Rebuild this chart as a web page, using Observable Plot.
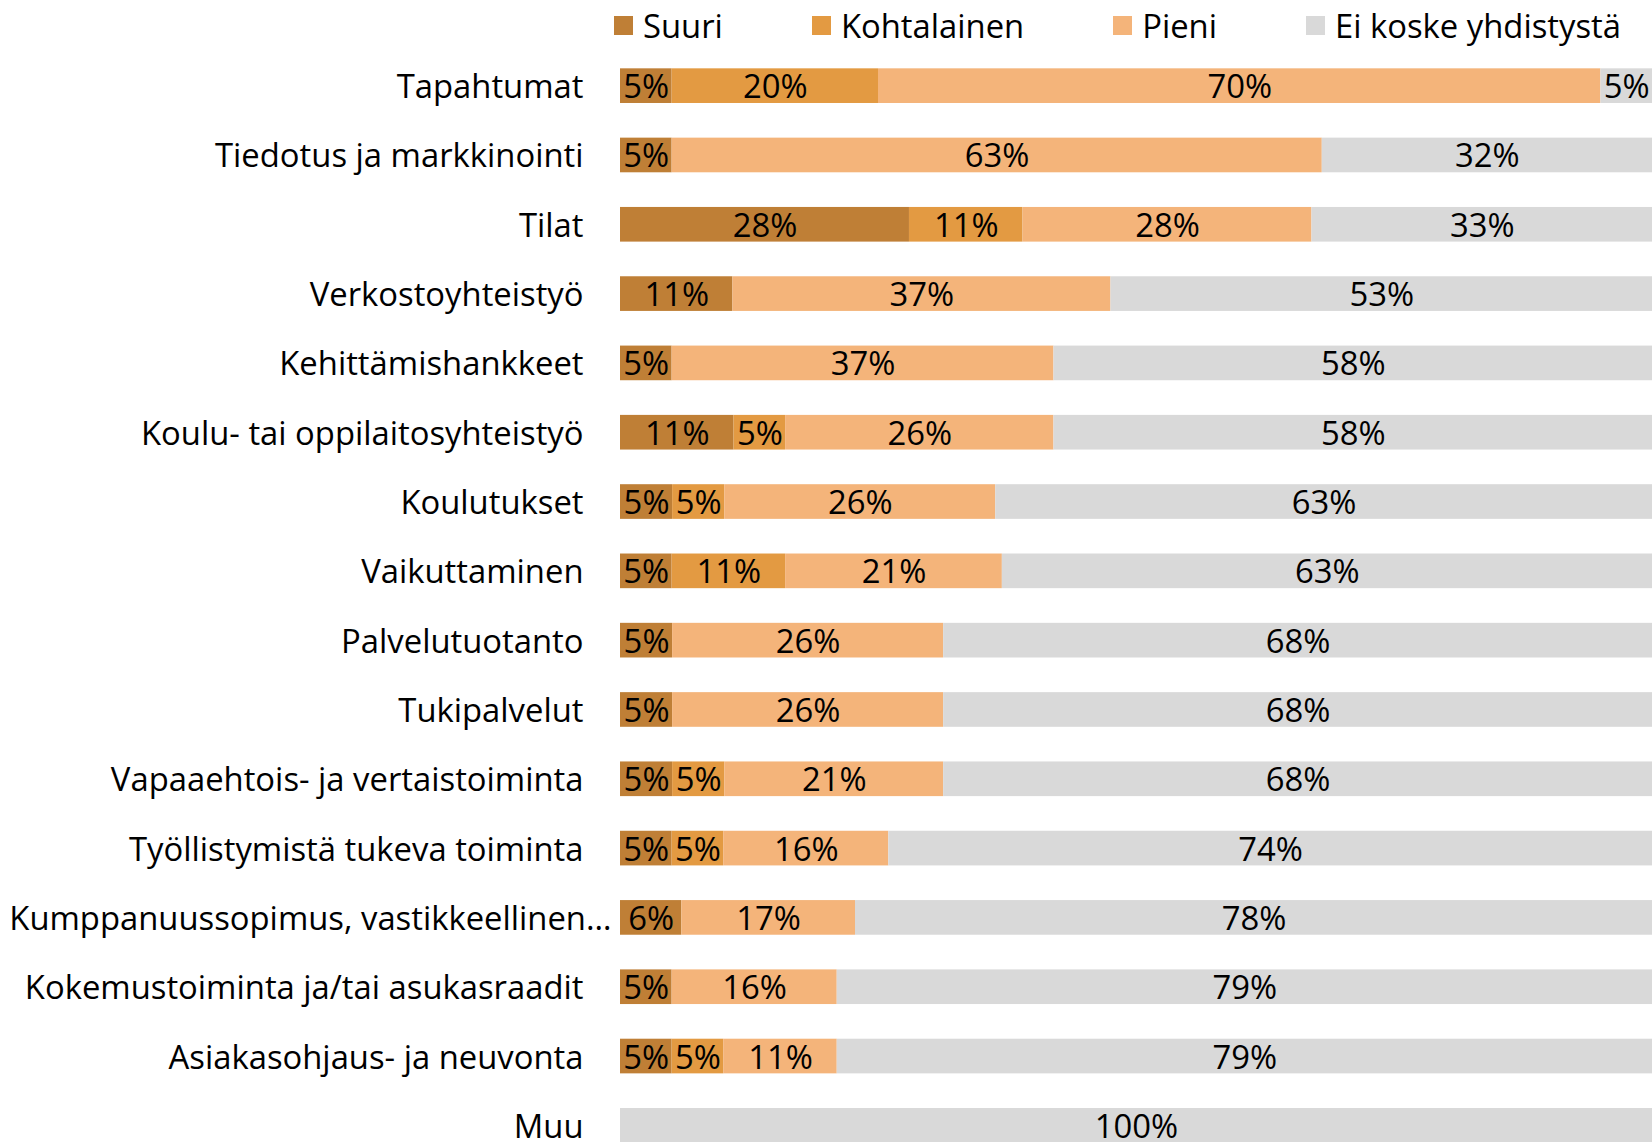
<!DOCTYPE html>
<html>
<head>
<meta charset="utf-8">
<script src="https://cdn.jsdelivr.net/npm/d3@7"></script>
<script src="https://cdn.jsdelivr.net/npm/@observablehq/plot@0.6"></script>
<style>
  html, body { margin: 0; padding: 0; background: #fff; }
  #wrap { width: 1652px; height: 1142px; overflow: hidden; position: relative; font-family: "Open Sans", Lato, sans-serif; }
  #legend { height: 51px; display: flex; align-items: center; padding-left: 614px; gap: 89px; font-size: 32.8px; color: #000; }
  #legend .item { display: flex; align-items: center; gap: 10px; white-space: nowrap; }
  #legend .sw { width: 19px; height: 19px; display: inline-block; }
</style>
</head>
<body>
<div id="wrap">
  <div id="legend"></div>
  <div id="chart"></div>
</div>
<script>
const categories = [
  "Tapahtumat",
  "Tiedotus ja markkinointi",
  "Tilat",
  "Verkostoyhteistyö",
  "Kehittämishankkeet",
  "Koulu- tai oppilaitosyhteistyö",
  "Koulutukset",
  "Vaikuttaminen",
  "Palvelutuotanto",
  "Tukipalvelut",
  "Vapaaehtois- ja vertaistoiminta",
  "Työllistymistä tukeva toiminta",
  "Kumppanuussopimus, vastikkeellinen…",
  "Kokemustoiminta ja/tai asukasraadit",
  "Asiakasohjaus- ja neuvonta",
  "Muu"
];
const longLabel = "Kumppanuussopimus, vastikkeellinen…";
const seriesNames = ["Suuri", "Kohtalainen", "Pieni", "Ei koske yhdistystä"];
const seriesColors = ["#BF7F36", "#E39A42", "#F4B47A", "#D9D9D9"];

const suuri       = [5, 5, 28, 11, 5, 11, 5, 5, 5, 5, 5, 5, 6, 5, 5, 0];
const kohtalainen = [20, 0, 11, 0, 0, 5, 5, 11, 0, 0, 5, 5, 0, 0, 5, 0];
const pieni       = [70, 63, 28, 37, 37, 26, 26, 21, 26, 26, 21, 16, 17, 16, 11, 0];
const eiKoske     = [5, 32, 33, 53, 58, 58, 63, 63, 68, 68, 68, 74, 78, 79, 79, 100];

const seriesValues = [suuri, kohtalainen, pieni, eiKoske];
const data = [];
categories.forEach((cat, i) => {
  seriesNames.forEach((s, j) => {
    const v = seriesValues[j][i];
    if (v > 0) data.push({category: cat, series: s, value: v});
  });
});

// Legend
const legend = document.getElementById("legend");
seriesNames.forEach((s, j) => {
  const item = document.createElement("span");
  item.className = "item";
  const sw = document.createElement("span");
  sw.className = "sw";
  sw.style.background = seriesColors[j];
  const t = document.createElement("span");
  t.textContent = s;
  item.appendChild(sw);
  item.appendChild(t);
  legend.appendChild(item);
});

const stackOpts = {x: "value", y: "category", z: "series", order: seriesNames, offset: "normalize"};
const fs = 32.8;

const chart = Plot.plot({
  width: 1652,
  height: 1091,
  marginLeft: 620,
  marginRight: 0,
  marginTop: 0,
  marginBottom: 0,
  style: {fontFamily: '"Open Sans", Lato, sans-serif', fontSize: fs + "px", color: "#000", overflow: "visible"},
  x: {domain: [0, 1], axis: null},
  y: {domain: categories, range: [0, 1109], paddingInner: 0.5, paddingOuter: 0.25, align: 0.5, round: false, label: null},
  color: {domain: seriesNames, range: seriesColors},
  marks: [
    Plot.barX(data, Plot.stackX({...stackOpts, fill: "series"})),
    Plot.axisY({ticks: categories.filter(c => c !== longLabel), tickSize: 0, tickPadding: 37, fontSize: fs, fill: "#000", label: null, dy: 1.5}),
    Plot.axisY({ticks: [longLabel], tickSize: 0, tickPadding: 9, fontSize: fs, fill: "#000", label: null, dy: 1.5}),
    Plot.text(data, Plot.stackX({...stackOpts, text: d => d.value + "%", fill: "#000", fontSize: fs, dy: 1.5}))
  ]
});
document.getElementById("chart").appendChild(chart);
</script>
</body>
</html>
